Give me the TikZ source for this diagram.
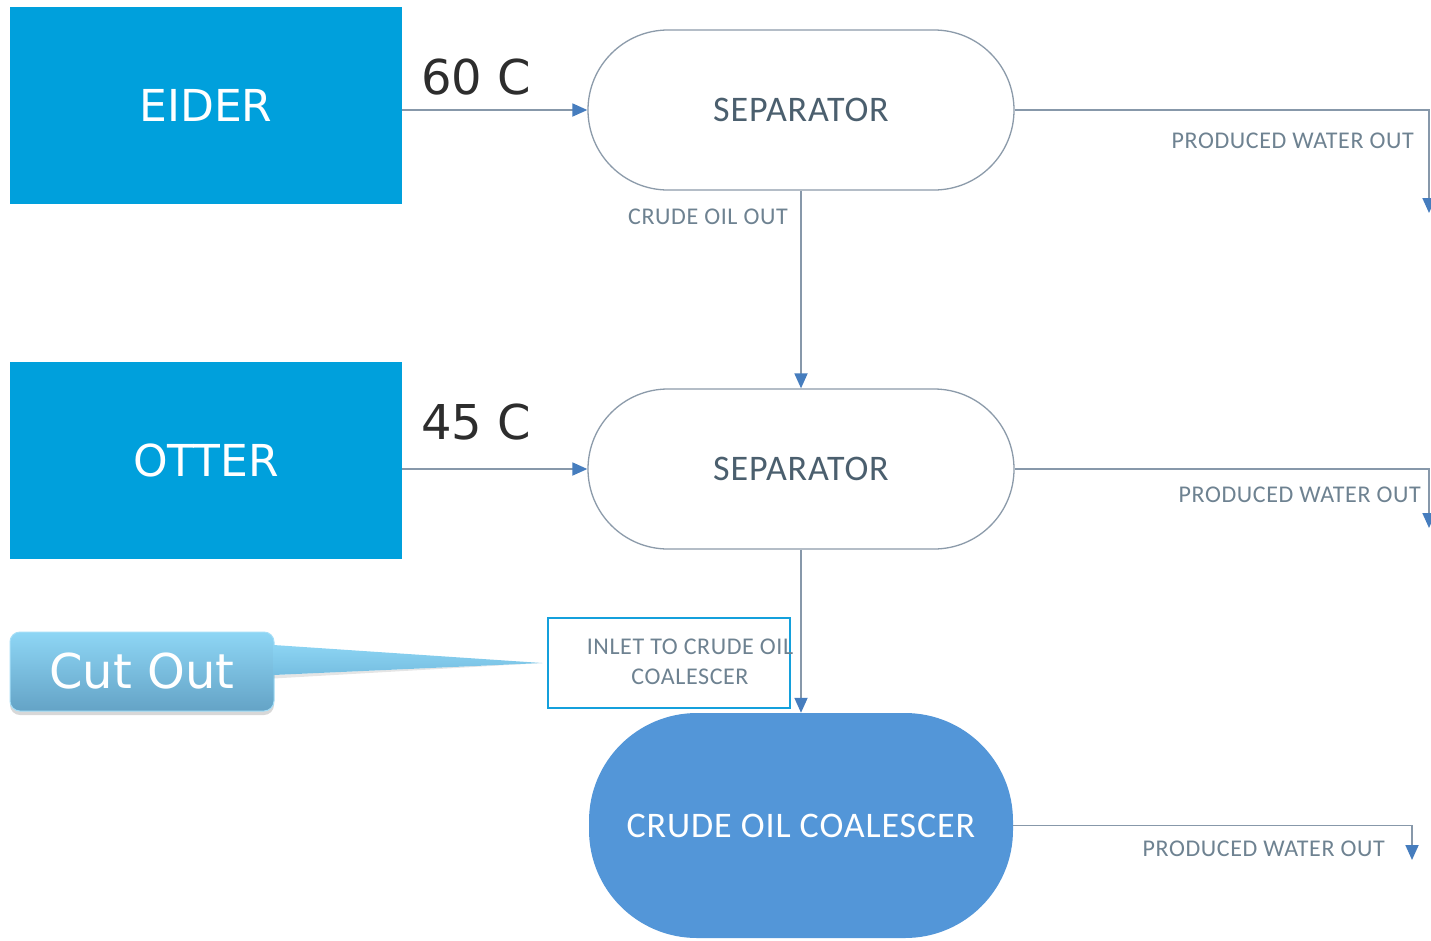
\documentclass[tikz,border=0pt]{standalone}
\usepackage{fontspec}
\setmainfont{DejaVu Sans}
\newfontfamily\lab[LetterSpace=2.5]{Carlito}
\usetikzlibrary{arrows.meta,shadows}
\definecolor{eiderblue}{RGB}{0,160,220}
\definecolor{coalblue}{RGB}{83,150,216}
\definecolor{linecol}{RGB}{135,152,170}
\definecolor{tipcol}{RGB}{70,125,190}
\definecolor{septext}{RGB}{75,95,110}
\definecolor{labtext}{RGB}{110,130,145}
\definecolor{sepborder}{RGB}{140,155,170}
\definecolor{inletcol}{RGB}{20,160,220}
\definecolor{darktext}{RGB}{45,45,45}
\definecolor{calltop}{RGB}{142,214,245}
\definecolor{callbot}{RGB}{100,163,198}
\definecolor{ptrtop}{RGB}{140,212,243}
\definecolor{ptrbot}{RGB}{118,190,225}
\begin{document}
\begin{tikzpicture}[x=1pt,y=-1pt,
  srcbox/.style={fill=eiderblue, minimum width=392pt, minimum height=197pt, text=white, font=\fontsize{44}{50}\selectfont, inner sep=0pt},
  sepbox/.style={draw=sepborder, line width=1.3pt, fill=white, minimum width=426pt, minimum height=160pt, rounded corners=80pt, text=septext, font=\lab\fontsize{36}{40}\selectfont},
  coalbox/.style={fill=coalblue, minimum width=424pt, minimum height=225pt, rounded corners=108pt, text=white, font=\lab\fontsize{36}{40}\selectfont},
  flow/.style={draw=linecol, line width=1.8pt, -{Triangle[length=15pt,width=13pt,color=tipcol]}},
  lbl/.style={text=labtext, font=\lab\fontsize{24}{30}\selectfont, inner sep=0pt},
  temp/.style={text=darktext, font=\fontsize{48}{50}\selectfont, inner sep=0pt},
  callbox/.style={top color=calltop, bottom color=callbot, draw=calltop!80!white, line width=1pt, rounded corners=10pt, minimum width=264pt, minimum height=79pt, text=white, font=\fontsize{48}{50}\selectfont, inner sep=0pt,
    drop shadow={shadow xshift=0pt, shadow yshift=-4pt, opacity=0.3, fill=gray}}
]
\useasboundingbox (0,0) rectangle (1431,940);
\fill[white] (0,0) rectangle (1431,940);

% sources
\node[srcbox] (eider) at (206,105.5) {EIDER};
\node[srcbox] (otter) at (206,460.5) {OTTER};
\node[temp] (t60) at (476,77) {60 C};
\node[temp] (t45) at (476,422) {45 C};

% vessels
\node[sepbox] (sep1) at (801,110) {SEPARATOR};
\node[sepbox] (sep2) at (801,469) {SEPARATOR};
\node[coalbox] (coal) at (801,825.5) {CRUDE OIL COALESCER};

% inlet label box
\node[draw=inletcol, line width=1.5pt, minimum width=242pt, minimum height=90pt, inner sep=0pt] (inlet) at (669,663) {};
\node[lbl, align=center] (inlettxt) at (690,662) {INLET TO CRUDE OIL\\COALESCER};

% connectors
\draw[flow] (eider.east |- sep1.west) -- (sep1.west);
\draw[flow] (otter.east |- sep2.west) -- (sep2.west);
\draw[flow] (sep1.south) -- (sep2.north);
\draw[flow] (sep2.south) -- (coal.north);
\coordinate (pw1) at (1429,213);
\coordinate (pw2) at (1429,528);
\coordinate (pw3) at (1412,860);
\draw[flow] (sep1.east) -| (pw1);
\draw[flow] (sep2.east) -| (pw2);
\draw[flow] (coal.east) -| (pw3);

% labels
\node[lbl] (col) at (708,217) {CRUDE OIL OUT};
\node[lbl, anchor=east] (pwl1) at (1414,141) {PRODUCED WATER OUT};
\node[lbl, anchor=east] (pwl2) at (1421,495) {PRODUCED WATER OUT};
\node[lbl, anchor=east] (pwl3) at (1385,849) {PRODUCED WATER OUT};

% callout
\node[callbox] (cut) at (142,671.5) {Cut Out};
\fill[gray, opacity=0.2] ([xshift=-1pt,yshift=-3.5pt]cut.east) -- ([xshift=-5pt]inlet.west) -- ([xshift=-1pt,yshift=-7pt]cut.east) -- cycle;
\shade[top color=ptrtop, bottom color=ptrbot] ([xshift=-1pt,yshift=26.5pt]cut.east) -- ([xshift=-5pt]inlet.west) -- ([xshift=-1pt,yshift=-3.5pt]cut.east) -- cycle;
\end{tikzpicture}
\end{document}
